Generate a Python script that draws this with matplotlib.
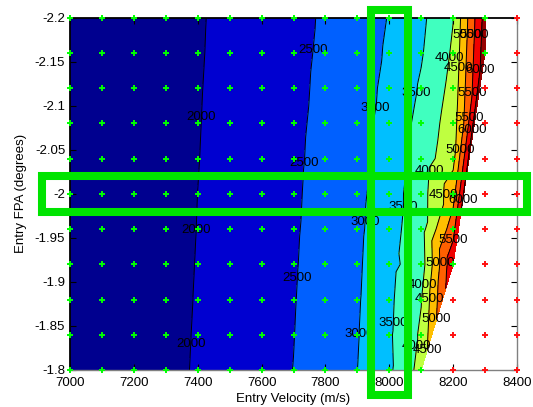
import numpy as np
import matplotlib
matplotlib.use('Agg')
import matplotlib.pyplot as plt
import matplotlib.tri as mtri
from matplotlib.patches import Rectangle
from matplotlib.ticker import FuncFormatter

plt.rcParams['font.family'] = ['Liberation Sans', 'DejaVu Sans']
plt.rcParams['axes.unicode_minus'] = False

# entry condition sweep
velocity = [7000, 7100, 7200, 7300, 7400, 7500, 7600, 7700,
            7800, 7900, 8000, 8100, 8200, 8300, 8400]          # m/s
fpa = [-2.2, -2.16, -2.12, -2.08, -2.04, -2.0,
       -1.96, -1.92, -1.88, -1.84, -1.8]                        # deg

# result per (fpa row, velocity column); nan = run failed
nan = np.nan
result = [
    [1394, 1537, 1678, 1820, 1962, 2104, 2246, 2388, 2549, 2780, 3019, 3398, 3987, 6200, nan],
    [1395, 1538, 1682, 1825, 1968, 2112, 2255, 2398, 2567, 2800, 3056, 3460, 4063, 6300, nan],
    [1401, 1545, 1689, 1833, 1977, 2121, 2265, 2409, 2587, 2822, 3105, 3557, 4150, nan, nan],
    [1401, 1547, 1693, 1838, 1984, 2130, 2276, 2421, 2608, 2843, 3157, 3652, 4250, nan, nan],
    [1403, 1550, 1697, 1844, 1991, 2138, 2285, 2432, 2628, 2865, 3213, 3728, 4350, nan, nan],
    [1408, 1556, 1704, 1852, 2001, 2148, 2296, 2444, 2648, 2886, 3265, 3793, 4800, nan, nan],
    [1410, 1560, 1709, 1858, 2007, 2157, 2306, 2455, 2667, 2907, 3314, 3800, 5300, nan, nan],
    [1413, 1563, 1714, 1864, 2015, 2166, 2316, 2467, 2688, 2930, 3370, 3750, 5900, nan, nan],
    [1413, 1565, 1718, 1870, 2023, 2175, 2328, 2480, 2710, 2952, 3412, 3980, nan, nan, nan],
    [1419, 1570, 1723, 1877, 2032, 2186, 2339, 2492, 2732, 2976, 3437, 4072, nan, nan, nan],
    [1421, 1576, 1731, 1885, 2040, 2195, 2350, 2505, 2752, 2998, 3416, 4175, nan, nan, nan],
]

levels = [2000, 2500, 3000, 3500, 4000, 4500, 5000, 5500, 6000]

# where each level gets its text labels (velocity, fpa)
label_spots = {
    2000: [(7414, -2.087), (7402, -1.959), (7380, -1.829)],
    2500: [(7775, -2.163), (7744, -2.034), (7719, -1.904)],
    3000: [(7967, -2.097), (7935, -1.968), (7910, -1.841)],
    3500: [(8111, -2.112), (8064, -1.985), (8030, -1.853)],
    4000: [(8183, -2.154), (8146, -2.025), (8108, -1.896), (8114, -1.826)],
    4500: [(8220, -2.143), (8170, -1.999), (8130, -1.880), (8120, -1.823)],
    5000: [(8250, -2.180), (8210, -2.050), (8170, -1.922), (8140, -1.850)],
    5500: [(8270, -2.180), (8250, -2.114), (8240, -2.086), (8200, -1.948)],
    6000: [(8285, -2.140), (8260, -2.072), (8225, -1.993)],
}

# highlighted run
pick_vel = 8000
pick_fpa = -2.0

Z = np.array(result, dtype=float)
vv, ff = np.meshgrid(velocity, fpa)
ok = ~np.isnan(Z)

# triangulate in grid-index units so the cells stay square, then map back
dv = velocity[1] - velocity[0]
df = fpa[1] - fpa[0]
tri_idx = mtri.Triangulation((vv[ok] - velocity[0]) / dv, (ff[ok] - fpa[0]) / df)
tri = mtri.Triangulation(vv[ok], ff[ok], tri_idx.triangles)

fig = plt.figure(figsize=(5.33, 4.07), dpi=100)
ax = fig.add_axes([70 / 533, 37 / 407, 447 / 533, 352.5 / 407])

fill_levels = [1000] + levels + [7000]
band_colors = ['#00008f', '#0000d0', '#0060ff', '#00bfff', '#40ffbf',
               '#bfff40', '#ffbf00', '#ff6000', '#f00000', '#960000']
ax.tricontourf(tri, Z[ok], levels=fill_levels, colors=band_colors)

# one contour set per level so each gets its own labels
for lev in levels:
    cs = ax.tricontour(tri, Z[ok], levels=[lev], colors='k', linewidths=0.7)
    labels = ax.clabel(cs, inline=False, fmt='%d', fontsize=9.5,
                       colors='k', manual=label_spots[lev])
    for t in labels:
        t.set_rotation(0)

# sample points: green = converged, red = failed
ax.plot(vv[ok], ff[ok], '+', color='#00ff00', ms=4.5, mew=1.4,
        clip_on=False, zorder=4)
ax.plot(vv[~ok], ff[~ok], '+', color='#ff1010', ms=4.5, mew=1.4,
        clip_on=False, zorder=4)

ax.set_xlim(7000, 8400)
ax.set_ylim(-1.8, -2.2)
ax.set_xticks(np.arange(7000, 8401, 200))
ax.set_yticks([-2.2, -2.15, -2.1, -2.05, -2.0, -1.95, -1.9, -1.85, -1.8])
ax.yaxis.set_major_formatter(FuncFormatter(lambda v, p: '%g' % v))
ax.tick_params(direction='in', length=4, width=0.8, top=True, right=True,
               labelsize=9.5)
ax.tick_params(axis='x', pad=5)
ax.tick_params(axis='y', pad=3.5)
for side in ['top', 'left']:
    ax.spines[side].set_color('k')
    ax.spines[side].set_linewidth(1.3)
for side in ['bottom', 'right']:
    ax.spines[side].set_color('#808080')
    ax.spines[side].set_linewidth(1.0)

ax.set_xlabel('Entry Velocity (m/s)', fontsize=9.5)
ax.set_ylabel('Entry FPA (degrees)', fontsize=9.5)
ax.xaxis.set_label_coords(0.5, -0.065)
ax.yaxis.set_label_coords(-0.096, 0.5)

# boxes around the picked column and row
green = '#00e400'
ax.add_patch(Rectangle((pick_vel - 58, -2.2085), 116, 0.4369, fill=False,
                       ec=green, lw=5.8, clip_on=False, zorder=10))
ax.add_patch(Rectangle((6912, pick_fpa - 0.0207), 1519, 0.0414, fill=False,
                       ec=green, lw=5.8, clip_on=False, zorder=10))

fig.savefig('out.png', dpi=100)
